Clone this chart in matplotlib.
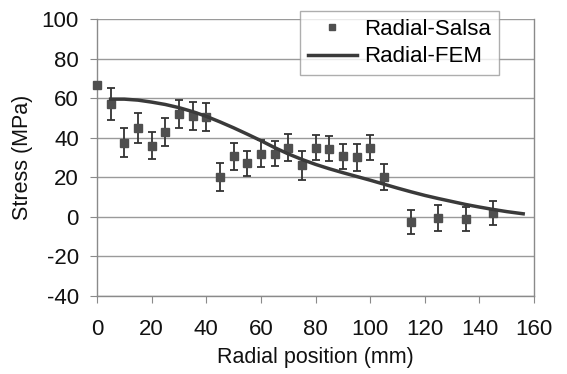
import matplotlib
matplotlib.use("Agg")
import matplotlib.pyplot as plt

# Measured (Salsa) data
salsa_x = [0, 5, 10, 15, 20, 25, 30, 35, 40, 45, 50, 55, 60, 65, 70, 75, 80, 85, 90, 95, 100, 105, 115, 125, 135, 145]
salsa_y = [66.5, 57, 37.5, 45, 36, 43, 52, 51, 50.5, 20, 30.5, 27, 32, 32, 35, 26, 35, 34.5, 30.5, 30, 35, 20, -2.5, -0.5, -1, 2]
salsa_err = [0, 8, 7.5, 7.5, 7, 7, 7, 7, 7, 7, 7, 6.5, 7, 6.5, 7, 7.5, 6.5, 6.5, 6.5, 7, 6.5, 6.5, 6, 6.5, 6, 6]

# FEM curve
fem_x = [5, 10, 15, 20, 25, 30, 35, 40, 45, 50, 55, 60, 65, 70, 75, 80, 85, 90, 95, 100, 105, 110, 115, 120, 125, 130, 135, 140, 145, 150, 156]
fem_y = [59.5, 59.5, 59, 58, 56.8, 55.2, 53.2, 50.8, 48, 45, 41.8, 38.5, 35, 31.8, 29, 26.5, 24.3, 22.3, 20.4, 18.5, 16.5, 14.5, 12.6, 10.8, 9.2, 7.7, 6.2, 4.9, 3.7, 2.6, 1.5]

xticks = [0, 20, 40, 60, 80, 100, 120, 140, 160]
yticks = [-40, -20, 0, 20, 40, 60, 80, 100]

plt.rcParams['font.family'] = ['Liberation Sans', 'DejaVu Sans']
plt.rcParams['axes.unicode_minus'] = False

fig = plt.figure(figsize=(5.67, 3.74), dpi=100)
ax = fig.add_axes([0.171, 0.209, 0.771, 0.740])

ax.set_xlim(0, 160)
ax.set_ylim(-40, 100)
ax.set_xticks(xticks)
ax.set_yticks(yticks)
ax.yaxis.grid(True, color='#9a9a9a', linewidth=1.0)
ax.set_axisbelow(True)

for s in ['left', 'bottom', 'right']:
    ax.spines[s].set_color('#8a8a8a')
    ax.spines[s].set_linewidth(1.0)
ax.spines['top'].set_visible(False)

ax.tick_params(axis='both', direction='out', length=5, color='#8a8a8a',
               labelsize=16, labelcolor='#111111')
ax.tick_params(axis='x', pad=12)
ax.tick_params(axis='y', pad=8)

ax.errorbar(salsa_x, salsa_y, yerr=salsa_err, fmt='none', ecolor='#333333',
            elinewidth=1.3, capsize=3, capthick=1.3, zorder=3)
ax.plot(salsa_x, salsa_y, linestyle='none', marker='s', markersize=5.5,
        color='#4f4f4f', label='Radial-Salsa', zorder=4, clip_on=False)
ax.plot(fem_x, fem_y, color='#3a3a3a', linewidth=2.5, label='Radial-FEM', zorder=5)

ax.set_xlabel('Radial position (mm)', fontsize=15.5, color='#111111', labelpad=5)
ax.set_ylabel('Stress (MPa)', fontsize=15.5, color='#111111', labelpad=6)

leg = fig.legend(loc='upper left', bbox_to_anchor=(300/567, 1 - 11/374),
                 fontsize=16, frameon=True, fancybox=False, handlelength=2.2,
                 handletextpad=0.35, borderpad=0.35, labelspacing=0.3,
                 borderaxespad=0, markerscale=0.8)
leg.get_frame().set_edgecolor('#9a9a9a')
leg.get_frame().set_linewidth(1.0)

fig.savefig('out.png', dpi=100)
